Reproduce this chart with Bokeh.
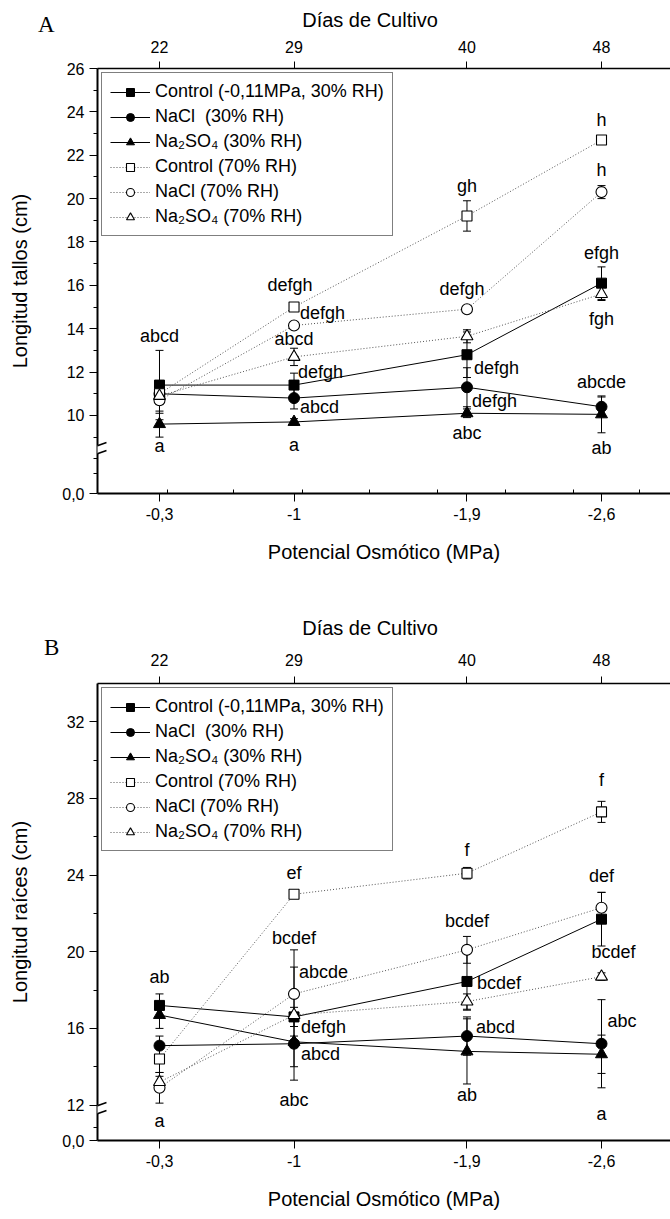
import numpy as np
from bokeh.plotting import figure
from bokeh.layouts import column
from bokeh.models import (Range1d, LinearAxis, FixedTicker, Legend, LegendItem, Div,
                          Whisker, TeeHead, ColumnDataSource, Arrow)
from bokeh.core.properties import value
from bokeh.embed import file_html
from bokeh.resources import INLINE

# ---------------- data ----------------
mpa = [-0.3, -1.0, -1.9, -2.6]
mpa_labels = ["-0,3", "-1", "-1,9", "-2,6"]
days = [22, 29, 40, 48]

series_names = ["Control (-0,11MPa, 30% RH)", "NaCl  (30% RH)", "Na\u2082SO\u2084 (30% RH)",
                "Control (70% RH)", "NaCl (70% RH)", "Na\u2082SO\u2084 (70% RH)"]

# Panel A: Longitud tallos (cm)
A_control30 = [11.4, 11.4, 12.8, 16.1]
A_nacl30 = [11.0, 10.8, 11.3, 10.4]
A_na2so4_30 = [9.6, 9.7, 10.1, 10.05]
A_control70 = [11.0, 15.0, 19.2, 22.7]
A_nacl70 = [10.7, 14.15, 14.9, 20.3]
A_na2so4_70 = [10.9, 12.7, 13.65, 15.6]
A_err_control30 = [1.6, 0.55, 1.05, 0.75]
A_err_nacl30 = [0.5, 0.5, 0.9, 0.45]
A_err_na2so4_30 = [0.6, 0.15, 0.2, 0.85]
A_err_control70 = [0.3, 0.2, 0.7, 0.1]
A_err_nacl70 = [0.6, 0.15, 0.1, 0.3]
A_err_na2so4_70 = [0.3, 0.4, 0.3, 0.3]

# Panel B: Longitud raíces (cm)
B_control30 = [17.2, 16.6, 18.45, 21.7]
B_nacl30 = [15.1, 15.2, 15.6, 15.2]
B_na2so4_30 = [16.7, 15.3, 14.8, 14.65]
B_control70 = [14.4, 23.0, 24.1, 27.3]
B_nacl70 = [12.9, 17.8, 20.1, 22.3]
B_na2so4_70 = [13.2, 16.7, 17.4, 18.7]
B_err_control30 = [0.6, 0.5, 1.5, 1.4]
B_err_nacl30 = [0.5, 1.2, 1.0, 2.3]
B_err_na2so4_30 = [0.7, 0.3, 1.7, 1.0]
B_err_control70 = [0.7, 0.2, 0.3, 0.55]
B_err_nacl70 = [0.8, 1.4, 0.7, 0.8]
B_err_na2so4_70 = [0.3, 3.4, 0.4, 0.2]

# significance letters: text, series index, x index
A_letters = ["abcd", "a", "defgh", "defgh", "abcd", "defgh", "abcd", "a",
             "gh", "defgh", "defgh", "defgh", "abc", "h", "h", "efgh", "fgh", "abcde", "ab"]
A_letter_series = [0, 2, 3, 4, 5, 0, 1, 2, 3, 4, 0, 1, 2, 3, 4, 0, 5, 1, 2]
A_letter_xi = [0, 0, 1, 1, 1, 1, 1, 1, 2, 2, 2, 2, 2, 3, 3, 3, 3, 3, 3]
B_letters = ["ab", "a", "ef", "bcdef", "abcde", "defgh", "abcd", "abc",
             "f", "bcdef", "bcdef", "abcd", "ab", "f", "def", "bcdef", "abc", "a"]
B_letter_series = [0, 4, 3, 5, 4, 0, 1, 2, 3, 4, 0, 1, 2, 3, 4, 0, 1, 2]
B_letter_xi = [0, 0, 1, 1, 1, 1, 1, 1, 2, 2, 2, 2, 2, 3, 3, 3, 3, 3]

# ---------------- layout / style (pixels) ----------------
A_place = [(0, -49, "center"), (0, 22, "center"), (-4, -22, "center"), (6, -12, "left"),
           (0, -18, "center"), (4, -13, "left"), (6, 9, "left"), (0, 23, "center"),
           (0, -30, "center"), (-5, -20, "center"), (7, 13, "left"), (5, 14, "left"),
           (0, 20, "center"), (0, -20, "center"), (0, -22, "center"), (0, -30, "center"),
           (0, 25, "center"), (0, -25, "center"), (0, 34, "center")]
B_place = [(0, -28, "center"), (0, 33, "center"), (0, -21, "center"), (0, -77, "center"),
           (5, -22, "left"), (7, 10, "left"), (7, 10, "left"), (0, 58, "center"),
           (0, -23, "center"), (0, -29, "center"), (10, 2, "left"), (9, -9, "left"),
           (0, 44, "center"), (0, -32, "center"), (0, -32, "center"), (12, 33, "center"),
           (6, -23, "left"), (0, 60, "center")]

FONT = "Liberation Sans"
styles = [
    dict(marker="square", filled=True, size=10),
    dict(marker="circle", filled=True, size=11),
    dict(marker="triangle", filled=True, size=12),
    dict(marker="square", filled=False, size=10),
    dict(marker="circle", filled=False, size=11),
    dict(marker="triangle", filled=False, size=12),
]


def make_panel(vals, errs, letters, l_series, l_xi, place, yr, yticks, yminor, zero_tick,
               height, top_border, bottom_border, ytitle, brk_y, x_minor, top_label_standoff):
    p = figure(width=670, height=height, output_backend="svg", toolbar_location=None,
               x_range=Range1d(0.0226, -2.959), y_range=Range1d(*yr),
               min_border_left=97, min_border_right=0, min_border_top=top_border,
               min_border_bottom=bottom_border, x_axis_location=None, y_axis_location=None)
    p.outline_line_color = None
    p.grid.visible = False
    p.background_fill_color = "white"

    bottom = LinearAxis(ticker=FixedTicker(ticks=mpa, minor_ticks=x_minor),
                        major_label_overrides={m: l for m, l in zip(mpa, mpa_labels)},
                        axis_label="Potencial Osmótico (MPa)")
    top = LinearAxis(ticker=FixedTicker(ticks=mpa, minor_ticks=[]),
                     major_label_overrides={m: str(d) for m, d in zip(mpa, days)})
    left = LinearAxis(ticker=FixedTicker(ticks=[zero_tick] + yticks, minor_ticks=yminor),
                      major_label_overrides={zero_tick: "0,0"}, axis_label=ytitle)
    for ax in (bottom, top, left):
        ax.axis_line_color = "black"
        ax.major_tick_line_color = "black"
        ax.minor_tick_line_color = "black"
        ax.major_label_text_font = FONT
        ax.major_label_text_font_size = "16px"
        ax.major_label_text_color = "black"
        ax.major_tick_in = 0
        ax.major_tick_out = 8
        ax.axis_label_text_font = FONT
        ax.axis_label_text_font_size = "20px"
        ax.axis_label_text_font_style = "normal"
        ax.axis_label_text_color = "black"
    bottom.axis_line_width = 2
    left.axis_line_width = 2
    top.axis_line_width = 1.5
    bottom.minor_tick_in = 4
    bottom.minor_tick_out = 0
    bottom.major_label_standoff = 6
    bottom.axis_label_standoff = 18
    top.major_tick_out = 7
    top.major_label_standoff = top_label_standoff
    left.minor_tick_in = 0
    left.minor_tick_out = 4
    left.major_label_standoff = 5
    left.axis_label_standoff = 28
    p.add_layout(bottom, "below")
    p.add_layout(top, "above")
    p.add_layout(left, "left")

    items = []
    for k in range(6):
        st = styles[k]
        y = vals[k]
        if st["filled"]:
            lr = p.line(mpa, y, line_color="black", line_width=1)
            sr = p.scatter(mpa, y, marker=st["marker"], size=st["size"], fill_color="black",
                           line_color="black", line_width=1)
        else:
            lr = p.line(mpa, y, line_color="#555555", line_width=1, line_dash="1 2")
            sr = p.scatter(mpa, y, marker=st["marker"], size=st["size"], fill_color="white",
                           line_color="black", line_width=1.1)
        items.append(LegendItem(label=series_names[k], renderers=[lr, sr]))

    for k in range(6):
        y = np.array(vals[k])
        e = np.array(errs[k])
        src = ColumnDataSource(dict(base=mpa, upper=y + e, lower=y - e))
        p.add_layout(Whisker(source=src, base="base", upper="upper", lower="lower",
                             line_color="black", line_width=1,
                             upper_head=TeeHead(size=8, line_color="black", line_width=1),
                             lower_head=TeeHead(size=8, line_color="black", line_width=1)))

    for align in ("center", "left"):
        idx = [i for i in range(len(letters)) if place[i][2] == align]
        src = ColumnDataSource(dict(
            x=[mpa[l_xi[i]] for i in idx],
            y=[vals[l_series[i]][l_xi[i]] for i in idx],
            t=[letters[i] for i in idx],
            dx=[place[i][0] for i in idx],
            dy=[place[i][1] for i in idx]))
        p.text(x="x", y="y", text="t", x_offset="dx", y_offset="dy", source=src,
               text_align=align, text_baseline="middle", text_font=value(FONT),
               text_font_size="18px", text_color="black")

    legend = Legend(items=items, location="top_left", margin=4, padding=8, spacing=4,
                    glyph_width=40, glyph_height=20, label_height=20, label_standoff=5,
                    border_line_color="black", border_line_width=1.5,
                    background_fill_color="white", background_fill_alpha=1.0,
                    label_text_font=FONT, label_text_font_size="18px",
                    label_text_color="black")
    p.add_layout(legend)

    # axis break marks
    p.add_layout(Arrow(x_start=0, y_start=brk_y - 4, x_end=0, y_end=brk_y + 4,
                       start_units="screen", end_units="screen", end=None,
                       line_color="white", line_width=5))
    for off in (-4, 4):
        p.add_layout(Arrow(x_start=-8, y_start=brk_y + off - 3, x_end=9, y_end=brk_y + off + 3,
                           start_units="screen", end_units="screen", end=None,
                           line_color="black", line_width=1.5))
    return p


A_vals = [A_control30, A_nacl30, A_na2so4_30, A_control70, A_nacl70, A_na2so4_70]
A_errs = [A_err_control30, A_err_nacl30, A_err_na2so4_30, A_err_control70, A_err_nacl70,
          A_err_na2so4_70]
B_vals = [B_control30, B_nacl30, B_na2so4_30, B_control70, B_nacl70, B_na2so4_70]
B_errs = [B_err_control30, B_err_nacl30, B_err_na2so4_30, B_err_control70, B_err_nacl70,
          B_err_na2so4_70]

A_minor_x = [-0.342, -0.685, -1.044, -1.393, -1.746, -2.100, -2.454, -2.80]

pA = make_panel(A_vals, A_errs, A_letters, A_letter_series, A_letter_xi, A_place,
                (6.4, 26), [10, 12, 14, 16, 18, 20, 22, 24, 26],
                [7.3, 8.0, 9, 11, 13, 15, 17, 19, 21, 23, 25], 6.4,
                600, 68, 107, "Longitud tallos (cm)", 44, A_minor_x, 9)
pB = make_panel(B_vals, B_errs, B_letters, B_letter_series, B_letter_xi, B_place,
                (10.15, 34), [12, 16, 20, 24, 28, 32],
                [10.85, 14, 18, 22, 26, 30], 10.15,
                619, 83, 79, "Longitud raíces (cm)", 31, [], 11)


def overlay_text(text, left, top, width, height, family, size, align="left"):
    return Div(text=text, width=width, height=height,
               styles={"position": "absolute", "left": f"{left}px", "top": f"{top}px",
                       "font-family": family, "font-size": size, "text-align": align,
                       "line-height": f"{height}px", "color": "black", "z-index": "10",
                       "white-space": "nowrap"})


layout = column(
    pA, pB,
    overlay_text("A", 33, 6, 24, 28, "Liberation Serif", "23px"),
    overlay_text("B", 39, 629, 24, 28, "Liberation Serif", "23px"),
    overlay_text("Días de Cultivo", 265, 3, 200, 24, FONT, "20px", "center"),
    overlay_text("Días de Cultivo", 265, 611, 200, 24, FONT, "20px", "center"),
    spacing=0)
open("out.html", "w").write(file_html(layout, INLINE))
